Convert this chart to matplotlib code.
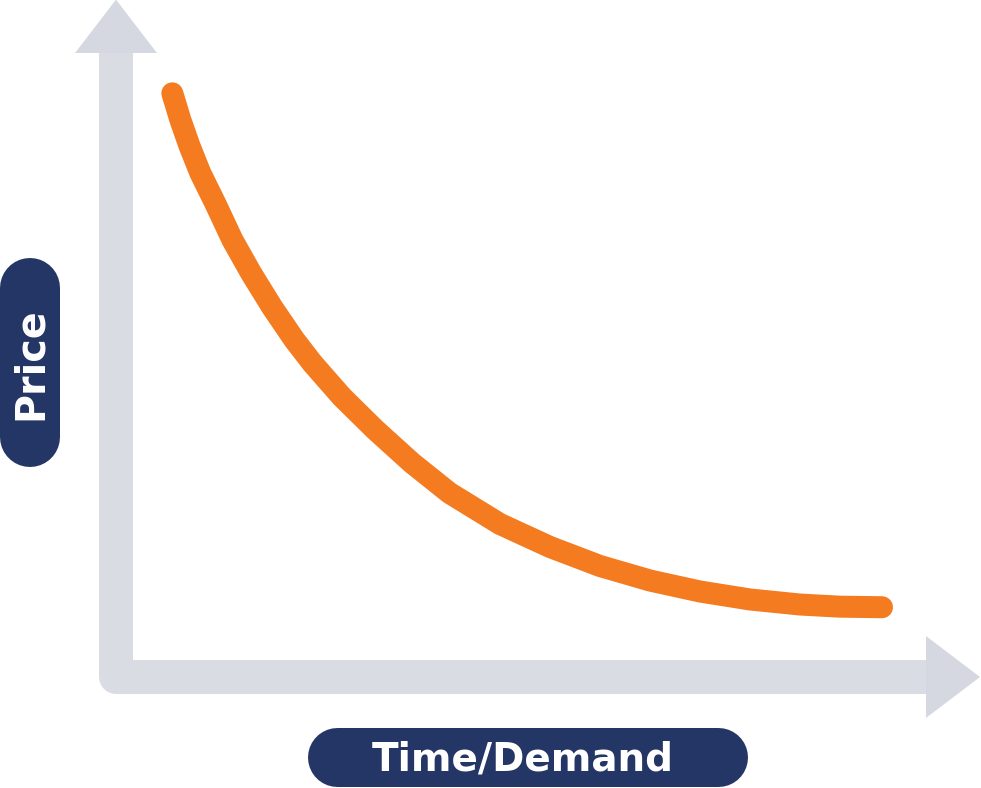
import matplotlib
matplotlib.use("Agg")
import matplotlib.pyplot as plt
from matplotlib.patches import Polygon

# ---- data (time/demand vs price, arbitrary units) ----
time_vals = [7.04, 8.05, 9.19, 10.54, 12.45, 14.56, 16.88, 19.5, 22.31, 24.53,
             28.25, 32.44, 37.0, 41.69, 48.0, 54.25, 60.5, 66.75, 73.0, 79.25,
             85.5, 90.5, 95.75]
price_vals = [97.28, 92.83, 88.5, 84.0, 78.83, 72.83, 67.33, 61.67, 56.17, 52.33,
              46.67, 41.17, 35.67, 30.67, 25.5, 21.67, 18.5, 16.08, 14.25, 12.92,
              12.08, 11.72, 11.63]
x_label = "Time/Demand"
y_label = "Price"

# ---- styling ----
AXIS_GRAY = "#D9DCE3"
HEAD_GRAY = "#D5D8E0"
ORANGE = "#F47B20"
NAVY = "#243665"

W, H, DPI = 981, 788, 100
fig = plt.figure(figsize=(W / DPI, H / DPI), dpi=DPI)
fig.patch.set_facecolor("white")

# main plotting axes (data units)
ax = fig.add_axes([0, 0, 1, 1])
ax.set_xlim(-14.5, 108.125)
ax.set_ylim(-18.5, 112.833)
ax.axis("off")

px = 72.0 / DPI  # points per pixel

# axis bars (L shape with round outer corner)
ax.plot([0, 0, 101.25], [104, 0, 0], color=AXIS_GRAY, lw=34 * px,
        solid_joinstyle="round", solid_capstyle="butt", zorder=1)
# arrow heads
ax.add_patch(Polygon([[-5.125, 104], [5.125, 104], [0, 112.9]],
                     closed=True, facecolor=HEAD_GRAY, edgecolor="none", zorder=1))
ax.add_patch(Polygon([[101.25, 6.83], [101.25, -6.83], [108.0, 0]],
                     closed=True, facecolor=HEAD_GRAY, edgecolor="none", zorder=1))

# price curve
ax.plot(time_vals, price_vals, color=ORANGE, lw=22 * px,
        solid_capstyle="round", solid_joinstyle="round", zorder=3)

# overlay axes in pixel units for the label pills
lab = fig.add_axes([0, 0, 1, 1])
lab.set_xlim(0, W)
lab.set_ylim(H, 0)
lab.axis("off")
lab.patch.set_alpha(0)

# Time/Demand pill (thick line with round caps -> semicircular ends)
lab.plot([336.5, 717.5], [756.5, 756.5], color=NAVY, lw=59 * px,
         solid_capstyle="round")
lab.text(523, 770, x_label, color="white", fontsize=28,
         family="DejaVu Sans", fontweight="bold", ha="center", va="baseline")

# Price pill
lab.plot([30, 30], [288, 437], color=NAVY, lw=60 * px, solid_capstyle="round")
lab.text(42, 364, y_label, color="white", fontsize=28.5,
         family="DejaVu Sans", fontweight="bold", ha="center", va="baseline",
         rotation=90, rotation_mode="anchor")

fig.savefig("out.png", dpi=DPI, facecolor="white")
